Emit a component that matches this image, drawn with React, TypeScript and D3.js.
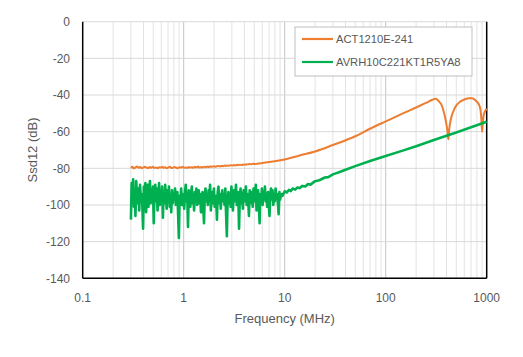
import React from "react";
import * as d3 from "d3";

const W = 523;
const H = 357;

// X ticks (MHz) and Y ticks (dB)
const xTicks = [0.1, 1, 10, 100, 1000];
const yTicks = [0, -20, -40, -60, -80, -100, -120, -140];

const seriesNames = ["ACT1210E-241", "AVRH10C221KT1R5YA8"];
const seriesColors = ["#ED7D31", "#00B050"];

// Orange: low-frequency measured sweep (0.3 – 5 MHz, log sweep) in dB
const orangeSweepStart = 0.3;
const orangeSweepStop = 5;
const orangeLowDb = [
  -79.8, -79.2, -80.1, -79.4, -79.0, -79.7, -79.3, -80.0, -79.5, -79.1,
  -79.6, -79.9, -79.3, -79.7, -79.2, -79.8, -79.5, -80.0, -79.4, -79.6,
  -79.1, -79.7, -79.4, -79.9, -79.5, -79.2, -79.8, -79.6, -79.3, -79.7,
  -79.9, -79.4, -79.6, -79.2, -79.7, -79.5, -79.8, -79.3, -79.6, -79.4,
  -79.7, -79.2, -79.5, -79.0, -79.6, -79.3, -79.5, -79.1, -79.4, -79.0,
  -79.3, -78.9, -79.2, -78.8, -79.1, -78.9, -78.7, -79.0, -78.6, -78.8,
  -78.5, -78.7, -78.4, -78.6, -78.3, -78.5, -78.2, -78.4, -78.1, -78.3,
  -78.0, -78.2, -77.9, -78.1, -77.8, -77.9, -77.6, -77.8, -77.5, -77.6,
];
// Orange: higher-frequency points
const orangeHighFreq = [
  5.5, 7, 10, 14, 20, 30, 50, 70, 100, 150, 200, 250, 290, 310, 325, 340, 358,
  375, 390, 402, 410, 417, 425, 435, 450, 475, 505, 550, 610, 660, 710, 760,
  810, 850, 870, 885, 900, 912, 930, 960, 1000,
];
const orangeHighDb = [
  -77.4, -76.5, -75.2, -73.0, -70.8, -67.3, -62.5, -58.4, -54.4, -49.9, -46.8,
  -44.3, -42.6, -42.0, -42.6, -43.8, -45.5, -49.0, -53.0, -57.0, -60.5, -64.2,
  -59.0, -55.0, -51.5, -48.0, -45.4, -43.5, -42.3, -41.8, -41.8, -42.5, -44.0,
  -46.0, -48.5, -53.0, -60.0, -56.0, -51.5, -49.0, -47.5,
];

// Green: low-frequency measured sweep (0.3 – 9.5 MHz, log sweep) in dB
const greenSweepStart = 0.3;
const greenSweepStop = 9.5;
const greenLowDb = [
  -108, -88, -97, -86, -101, -92, -106, -87, -95, -99,
  -91, -103, -89, -96, -94, -100, -113, -90, -98, -88,
  -104, -93, -89, -101, -95, -87, -99, -92, -97, -90,
  -110, -94, -89, -98, -91, -103, -96, -88, -100, -93,
  -97, -90, -107, -93, -99, -89, -96, -102, -92, -98,
  -90, -101, -95, -104, -92, -99, -94, -97, -91, -100,
  -96, -93, -105, -118, -95, -99, -91, -100, -94, -97,
  -102, -93, -89, -98, -95, -112, -92, -97, -101, -94,
  -90, -99, -96, -103, -93, -98, -91, -100, -95, -92,
  -99, -94, -104, -97, -93, -101, -110, -95, -91, -98,
  -94, -100, -92, -97, -89, -103, -96, -93, -99, -91,
  -101, -95, -97, -108, -93, -90, -99, -94, -102, -96,
  -92, -98, -95, -100, -91, -105, -117, -97, -93, -99,
  -94, -101, -90, -96, -103, -92, -98, -95, -89, -100,
  -97, -93, -113, -96, -91, -99, -94, -102, -92, -98,
  -95, -90, -100, -94, -97, -106, -92, -99, -93, -96,
  -101, -91, -98, -94, -89, -103, -96, -92, -99, -110,
  -94, -97, -91, -100, -93, -96, -90, -98, -95, -101,
  -93, -99, -106, -94, -91, -97, -92, -100, -95, -98,
  -91, -96, -94, -99, -105, -93, -97, -95, -94, -95,
];
const greenHighFreq = [
  9.7, 10, 10.5, 11, 11.5, 12, 12.7, 13.4, 14, 15, 16, 17, 18, 20, 22, 25, 27,
  30, 35, 40, 50, 70, 100, 150, 200, 300, 400, 500, 700, 1000,
];
const greenHighDb = [
  -94, -92.5, -93.2, -91.8, -92.4, -91, -91.6, -90.4, -90.8, -89.6, -89.9,
  -88.6, -88.9, -87, -86.5, -85, -84.8, -83.3, -82, -80.8, -78.8, -76, -73.3,
  -70.2, -67.9, -64.6, -62.2, -60.4, -57.6, -54.6,
];

const FONT = "'Liberation Sans', Arial, sans-serif";

function sweep(start: number, stop: number, vals: number[]) {
  const n = vals.length;
  return vals.map((v, i) => ({
    f: start * Math.pow(stop / start, i / (n - 1)),
    v,
  }));
}

export default function App() {
  const left = 82.7;
  const right = 486.7;
  const top = 21.7;
  const bottom = 278.3;

  const x = d3.scaleLog().domain([0.1, 1000]).range([left, right]);
  const y = d3.scaleLinear().domain([-140, 0]).range([bottom, top]);

  const orange = [
    ...sweep(orangeSweepStart, orangeSweepStop, orangeLowDb),
    ...orangeHighFreq.map((f, i) => ({ f, v: orangeHighDb[i] })),
  ];
  const green = [
    ...sweep(greenSweepStart, greenSweepStop, greenLowDb),
    ...greenHighFreq.map((f, i) => ({ f, v: greenHighDb[i] })),
  ];

  const smoothLine = d3
    .line<{ f: number; v: number }>()
    .x((d) => x(d.f))
    .y((d) => y(d.v))
    .curve(d3.curveMonotoneX);
  const straightLine = d3
    .line<{ f: number; v: number }>()
    .x((d) => x(d.f))
    .y((d) => y(d.v));

  const minorTicks: number[] = [];
  for (let dec = 0.1; dec < 1000; dec *= 10) {
    for (let k = 2; k <= 9; k++) minorTicks.push(dec * k);
  }

  const legendX = 295;
  const legendY = 27;

  return (
    <svg
      width={W}
      height={H}
      style={{ position: "absolute", left: 0, top: 0, background: "#fff" }}
    >
      <rect x={0} y={0} width={W} height={H} fill="#fff" />
      {/* minor vertical grid */}
      {minorTicks.map((t) => (
        <line
          key={"m" + t}
          x1={x(t)}
          x2={x(t)}
          y1={top}
          y2={bottom}
          stroke="#e3e3e3"
          strokeWidth={1}
        />
      ))}
      {/* major vertical grid */}
      {xTicks.slice(1, -1).map((t) => (
        <line
          key={"M" + t}
          x1={x(t)}
          x2={x(t)}
          y1={top}
          y2={bottom}
          stroke="#c4c4c4"
          strokeWidth={1}
        />
      ))}
      {/* horizontal grid */}
      {yTicks.map((t) => (
        <line
          key={"h" + t}
          x1={left}
          x2={right}
          y1={y(t)}
          y2={y(t)}
          stroke="#d9d9d9"
          strokeWidth={1}
        />
      ))}
      {/* axes */}
      <line x1={left} x2={left} y1={top} y2={bottom} stroke="#000" strokeWidth={1.5} />
      <line x1={right} x2={right} y1={top} y2={bottom} stroke="#000" strokeWidth={1.5} />
      <line x1={left} x2={right} y1={bottom} y2={bottom} stroke="#000" strokeWidth={1.5} />

      {/* series */}
      <path
        d={smoothLine(orange) || ""}
        fill="none"
        stroke={seriesColors[0]}
        strokeWidth={2}
        strokeLinejoin="round"
      />
      <path
        d={straightLine(green) || ""}
        fill="none"
        stroke={seriesColors[1]}
        strokeWidth={2.6}
        strokeLinejoin="round"
      />

      {/* y tick labels */}
      {yTicks.map((t) => (
        <text
          key={"yl" + t}
          x={70}
          y={y(t)}
          dy="0.35em"
          textAnchor="end"
          fontFamily={FONT}
          fontSize={12}
          fill="#595959"
        >
          {t}
        </text>
      ))}
      {/* x tick labels */}
      {xTicks.map((t) => (
        <text
          key={"xl" + t}
          x={x(t)}
          y={297.5}
          dy="0.35em"
          textAnchor="middle"
          fontFamily={FONT}
          fontSize={12}
          fill="#595959"
        >
          {t}
        </text>
      ))}
      {/* axis titles */}
      <text
        x={(left + right) / 2}
        y={323}
        textAnchor="middle"
        fontFamily={FONT}
        fontSize={13}
        fill="#595959"
      >
        Frequency (MHz)
      </text>
      <text
        transform={`translate(37,${(top + bottom) / 2}) rotate(-90)`}
        textAnchor="middle"
        fontFamily={FONT}
        fontSize={13}
        fill="#595959"
      >
        Ssd12 (dB)
      </text>

      {/* legend */}
      <rect
        x={legendX}
        y={legendY}
        width={177}
        height={49}
        fill="#fff"
        stroke="#bfbfbf"
        strokeWidth={1}
      />
      {seriesNames.map((name, i) => (
        <g key={name}>
          <line
            x1={302}
            x2={333}
            y1={39 + i * 23}
            y2={39 + i * 23}
            stroke={seriesColors[i]}
            strokeWidth={2.2}
          />
          <text
            x={336}
            y={39 + i * 23}
            dy="0.35em"
            fontFamily={FONT}
            fontSize={11.2}
            fill="#595959"
          >
            {name}
          </text>
        </g>
      ))}
    </svg>
  );
}
